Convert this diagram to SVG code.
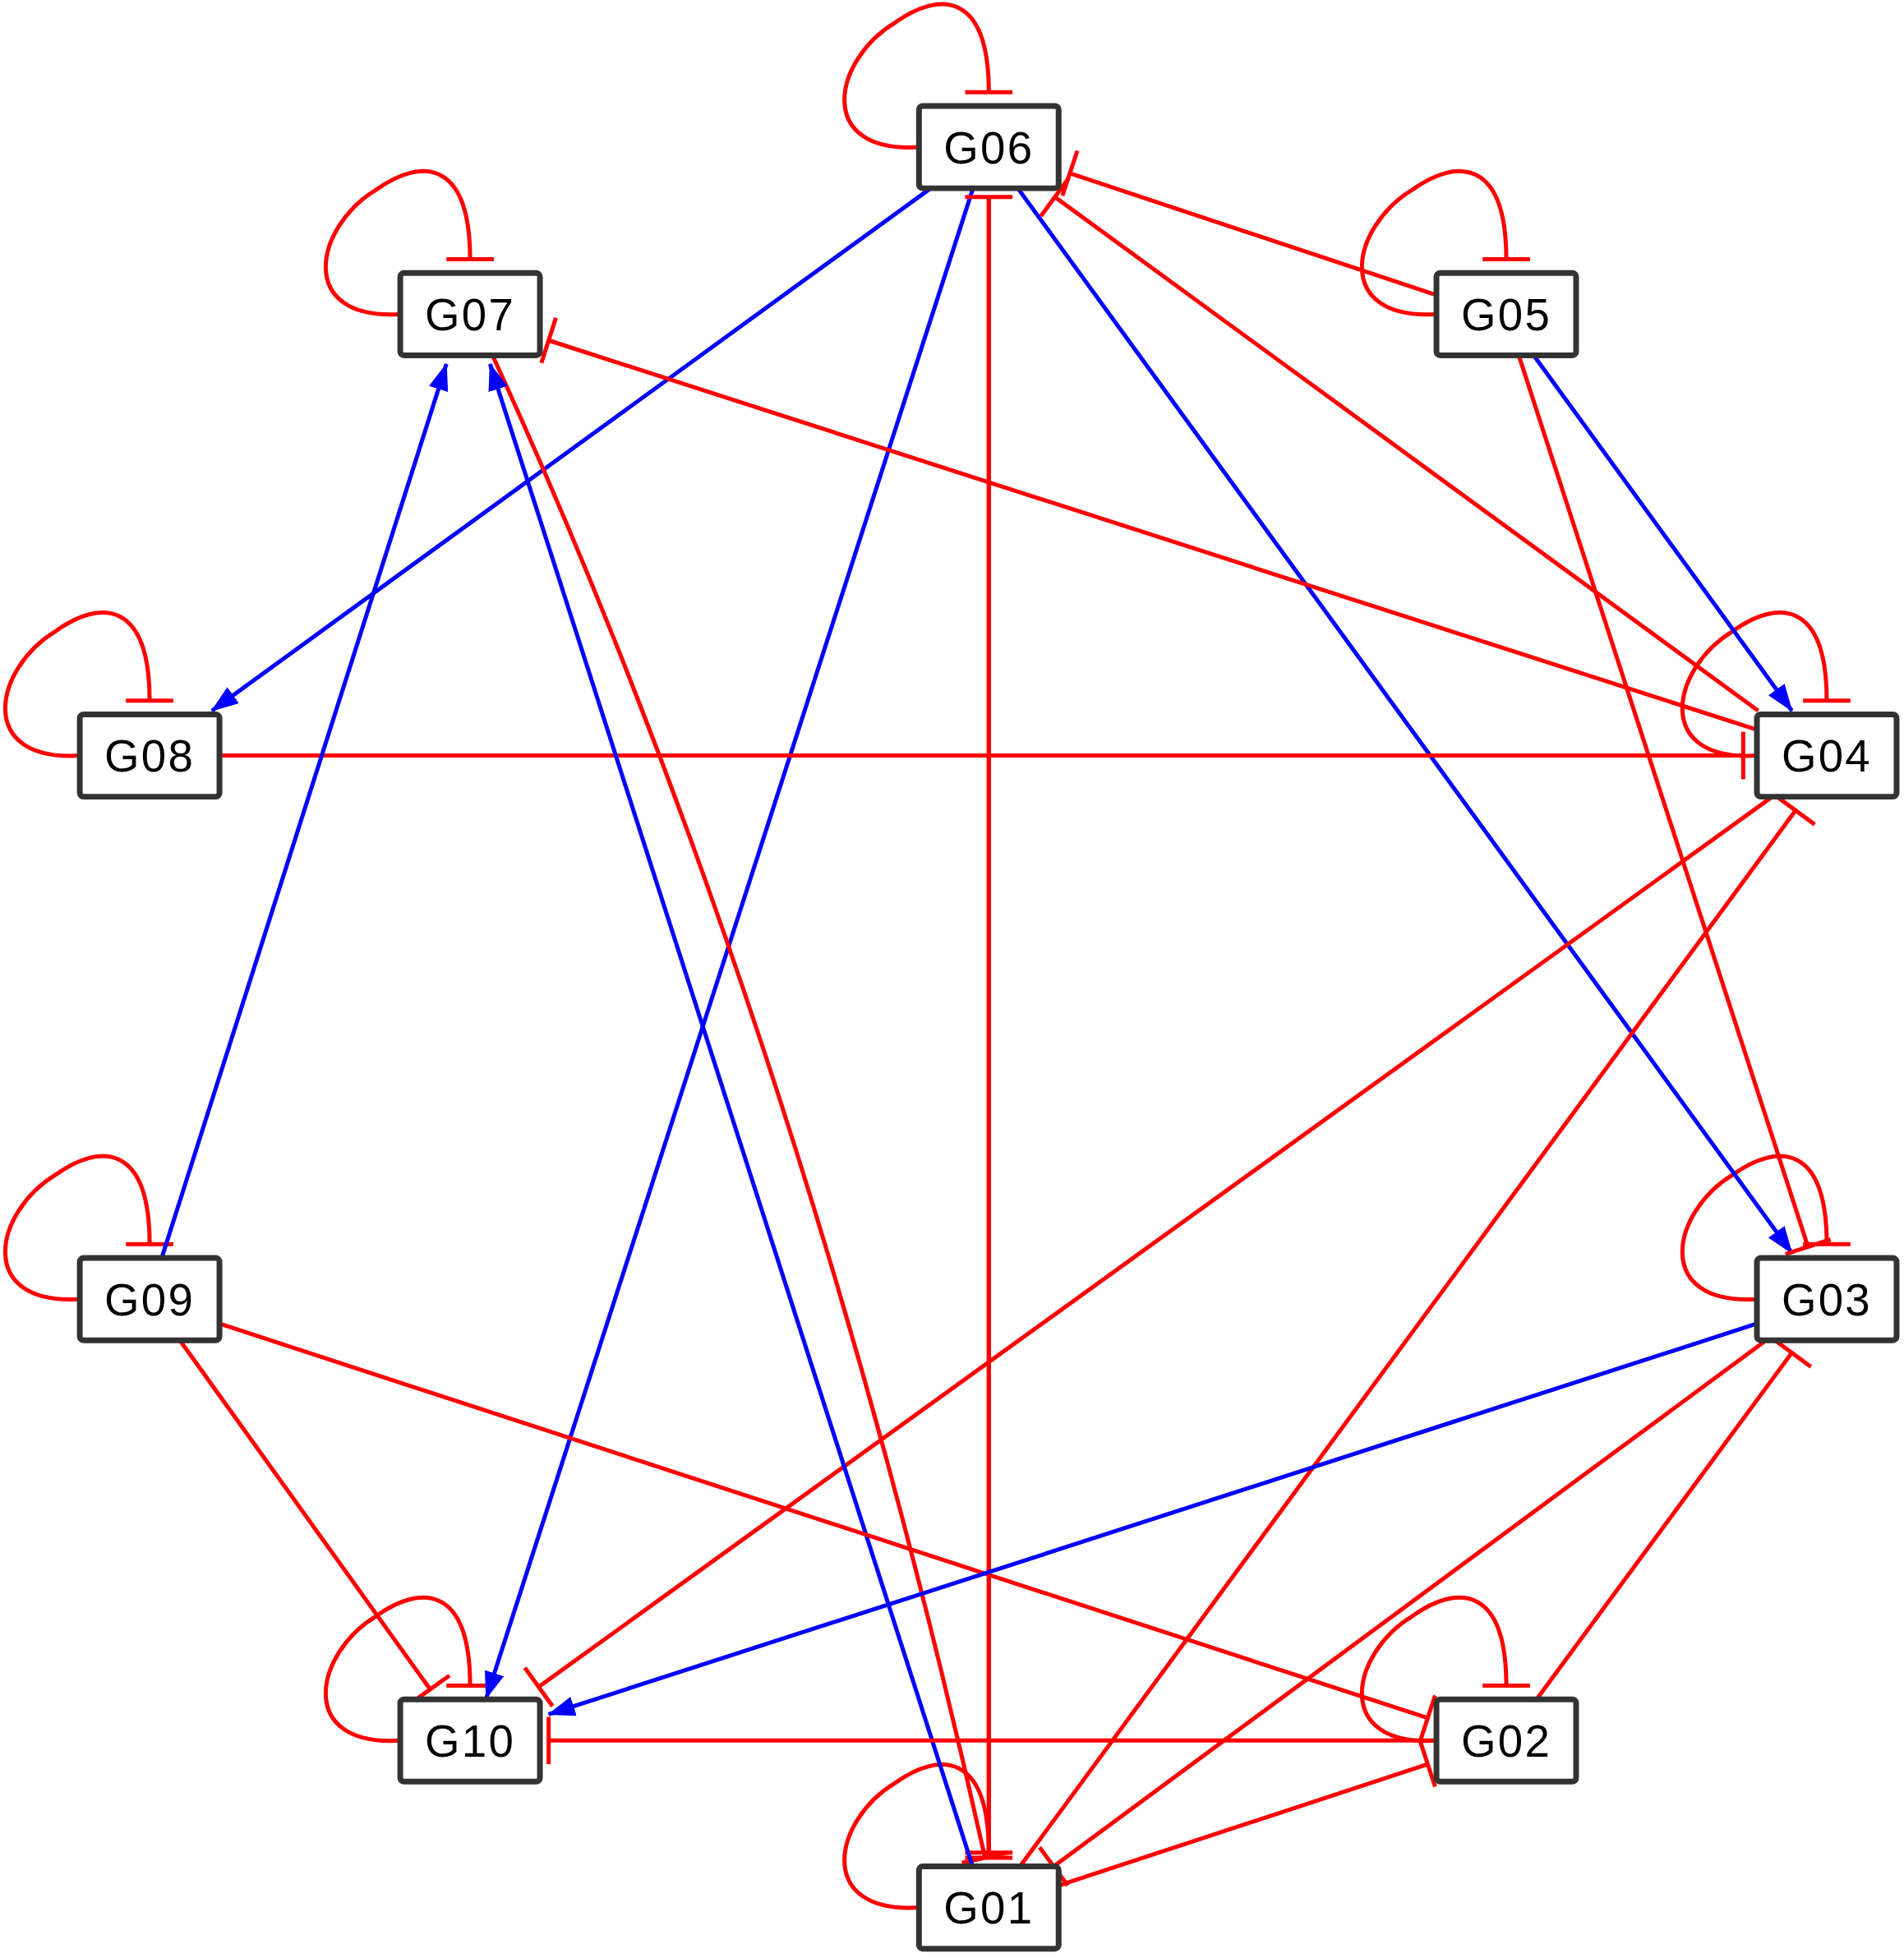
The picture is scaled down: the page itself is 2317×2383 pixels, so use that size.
<svg xmlns="http://www.w3.org/2000/svg" width="2317" height="2383" viewBox="0 0 2317 2383">
<style>
.n rect{fill:#fff;stroke:#333;stroke-width:4.6}
.n text{font-family:"Liberation Sans",Arial,sans-serif;font-size:36px;letter-spacing:1.5px;text-anchor:middle;fill:#000}
.r{stroke:#f00;stroke-width:3.3;fill:none;marker-end:url(#t)}
.b{stroke:#00f;stroke-width:3.3;fill:none;marker-end:url(#a)}
</style>
<defs>
<marker id="a" markerUnits="userSpaceOnUse" markerWidth="22" markerHeight="16" refX="21" refY="8" orient="auto"><path d="M0,0 L22,8 L0,16 z" fill="#00f"/></marker>
<marker id="t" markerUnits="userSpaceOnUse" markerWidth="4" markerHeight="40" refX="2" refY="20" orient="auto"><path d="M2,1 L2,39" stroke="#f00" stroke-width="3.3"/></marker>
</defs>
<rect width="2317" height="2383" fill="#fff"/>
<g transform="scale(1.5174)">
<g id="connectors">
<path class="r" d="M737,118 C653,123 668,48 718,18 C753,-7 793,-7 793,74"/>
<path class="r" d="M321,252 C237,257 252,182 302,152 C337,127 377,127 377,208"/>
<path class="r" d="M1152,252 C1068,257 1083,182 1133,152 C1168,127 1208,127 1208,208"/>
<path class="r" d="M64,606 C-20,611 -5,536 45,506 C80,481 120,481 120,562"/>
<path class="r" d="M1409,606 C1325,611 1340,536 1390,506 C1425,481 1465,481 1465,562"/>
<path class="r" d="M64,1042 C-20,1047 -5,972 45,942 C80,917 120,917 120,998"/>
<path class="r" d="M1409,1042 C1325,1047 1340,972 1390,942 C1425,917 1465,917 1465,998"/>
<path class="r" d="M321,1396 C237,1401 252,1326 302,1296 C337,1271 377,1271 377,1352"/>
<path class="r" d="M1152,1396 C1068,1401 1083,1326 1133,1296 C1168,1271 1208,1271 1208,1352"/>
<path class="r" d="M737,1530 C653,1535 668,1460 718,1430 C753,1405 793,1405 793,1486"/>
<path class="b" d="M745,152 L170,570"/>
<path class="b" d="M780,152 L390,1362"/>
<path class="b" d="M817,152 L1437,1005"/>
<path class="r" d="M793,1490 L793,158"/>
<path class="r" d="M793,158 L793,1490"/>
<path class="r" d="M1150,236 L858,139"/>
<path class="r" d="M1410,570 L846,158"/>
<path class="b" d="M1230,285 L1437,570"/>
<path class="r" d="M1218,285 L1450,1000"/>
<path class="r" d="M1408,585 L440,273"/>
<path class="r" d="M177,606 L1398,606"/>
<path class="r" d="M1420,640 L432,1353"/>
<path class="r" d="M818,1497 L1440,650"/>
<path class="r" d="M395,285 Q640,820 790,1490"/>
<path class="b" d="M780,1497 L393,292"/>
<path class="b" d="M130,1008 L358,292"/>
<path class="r" d="M177,1062 L1145,1378"/>
<path class="r" d="M145,1076 L345,1355"/>
<path class="b" d="M1408,1062 L440,1375"/>
<path class="r" d="M1415,1076 L845,1497"/>
<path class="r" d="M1233,1362 L1437,1085"/>
<path class="r" d="M1150,1396 L440,1396"/>
<path class="r" d="M850,1512 L1145,1415"/>
</g>
<g id="G06" class="n"><rect x="737" y="85" width="112" height="66" rx="3"/><text x="793" y="131">G06</text></g>
<g id="G07" class="n"><rect x="321" y="219" width="112" height="66" rx="3"/><text x="377" y="265">G07</text></g>
<g id="G05" class="n"><rect x="1152" y="219" width="112" height="66" rx="3"/><text x="1208" y="265">G05</text></g>
<g id="G08" class="n"><rect x="64" y="573" width="112" height="66" rx="3"/><text x="120" y="619">G08</text></g>
<g id="G04" class="n"><rect x="1409" y="573" width="112" height="66" rx="3"/><text x="1465" y="619">G04</text></g>
<g id="G09" class="n"><rect x="64" y="1009" width="112" height="66" rx="3"/><text x="120" y="1055">G09</text></g>
<g id="G03" class="n"><rect x="1409" y="1009" width="112" height="66" rx="3"/><text x="1465" y="1055">G03</text></g>
<g id="G10" class="n"><rect x="321" y="1363" width="112" height="66" rx="3"/><text x="377" y="1409">G10</text></g>
<g id="G02" class="n"><rect x="1152" y="1363" width="112" height="66" rx="3"/><text x="1208" y="1409">G02</text></g>
<g id="G01" class="n"><rect x="737" y="1497" width="112" height="66" rx="3"/><text x="793" y="1543">G01</text></g>
</g>
</svg>
